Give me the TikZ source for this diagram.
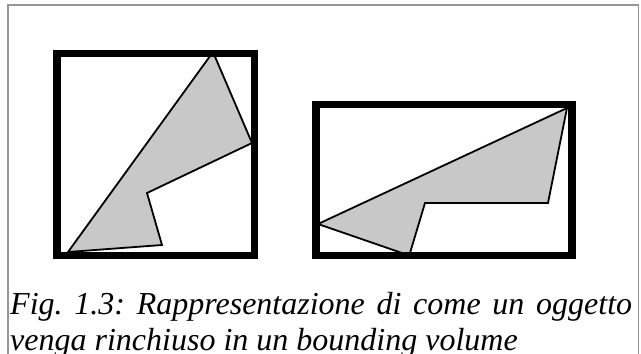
\documentclass[tikz,border=0pt]{standalone}
\usepackage{fontspec}
\setmainfont{Liberation Serif}
\definecolor{framegray}{RGB}{150,150,150}
\definecolor{shapegray}{RGB}{200,200,200}
\tikzset{
    % thick bounding volume
    bvbox/.style={draw=black, line width=7.5pt},
    % the enclosed object
    objshape/.style={draw=black, fill=shapegray, line width=1.8pt},
    % caption lines
    caption/.style={anchor=base west, inner sep=0pt,
                    font=\frenchspacing\itshape\fontsize{32}{37}\selectfont},
}

\begin{document}
\begin{tikzpicture}[x=1pt,y=-1pt]
  \useasboundingbox (0,0) rectangle (641,354);
  \draw[framegray, line width=1.2pt] (8,354) -- (8,5) -- (638.5,5) -- (638.5,354);
  % left: object in a near-square box
  \draw[objshape] (213,52) -- (252,143) -- (147,193) -- (162,245) -- (68,252) -- cycle;
  \draw[bvbox] (57,53.5) rectangle (254.5,255.5);
  % right: the same object turned, in a wide box
  \draw[objshape] (567,108) -- (548,203) -- (425,203) -- (410,253) -- (402,253) -- (318,224) -- cycle;
  \draw[bvbox] (316,104.5) rectangle (572,255.3);
  \node[caption] (cap1) at (10,314)
    {\makebox[622pt][s]{Fig. 1.3: Rappresentazione di come un oggetto}};
  \node[caption] (cap2) at (10,350) {venga rinchiuso in un bounding volume};
\end{tikzpicture}
\end{document}
